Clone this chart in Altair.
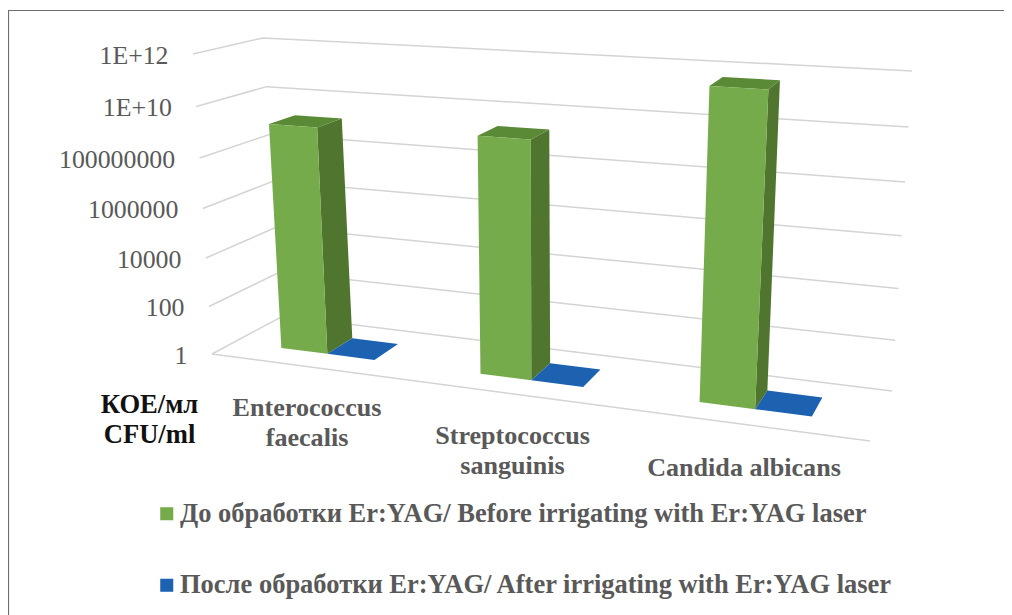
import altair as alt
import numpy as np
import pandas as pd

categories = ["Enterococcus\nfaecalis", "Streptococcus\nsanguinis", "Candida albicans"]
before_values = [1.6e9, 2.2e9, 4.9e11]
after_values = [1, 1, 1]
series_names = ["До обработки Er:YAG/ Before irrigating with Er:YAG laser",
                "После обработки Er:YAG/ After irrigating with Er:YAG laser"]
tick_labels = ["1", "100", "10000", "1000000", "100000000", "1E+10", "1E+12"]
tick_powers = [0, 2, 4, 6, 8, 10, 12]
unit_label = ["КОЕ/мл", "CFU/ml"]

W, H = 996, 607
SERIF = "Liberation Serif"
TICK_GREY = "#595959"

# perspective box corners on the page: (front/back, bottom/top, left/right)
FBL, FBR = np.array([212, 354.]), np.array([870, 441.])
BBL, BBR = np.array([283, 316.]), np.array([892, 391.])
FTL, FTR = np.array([193, 54.]), np.array([892, 96.])
BTL, BTR = np.array([263, 38.]), np.array([912, 71.])


def project(u, d, h):
    u = u - 0.14 * u * (1 - u)
    h = h - 0.06 * h * (1 - h)
    bot = (FBL * (1 - u) + FBR * u) * (1 - d) + (BBL * (1 - u) + BBR * u) * d
    top = (FTL * (1 - u) + FTR * u) * (1 - d) + (BTL * (1 - u) + BTR * u) * d
    return bot * (1 - h) + top * h


def level(v):
    return np.log10(v) / 12


polys, lines = [], []


def add(rows, pid, pts, **kw):
    for k, p in enumerate(pts):
        rows.append(dict(pid=pid, k=k, x=float(p[0]), y=float(p[1]), **kw))


# gridlines: left wall, back wall, floor edges
for p in tick_powers:
    h = p / 12
    add(lines, f"g{p}", [project(0, 0, h), project(0, 1, h), project(1, 1, h)])
add(lines, "front", [project(0, 0, 0), project(1, 0, 0)])

D0, D1 = 0.32, 0.71
BW = 0.08
A = 0.25
for i, (b, a) in enumerate(zip(before_values, after_values)):
    u0 = (i + A) / 3
    u1 = u0 + BW
    u2 = u1 + BW
    ht = level(b)
    add(polys, f"s{i}", [project(u1, D0, 0), project(u1, D1, 0), project(u1, D1, ht), project(u1, D0, ht)],
        shade="side")
    add(polys, f"t{i}", [project(u0, D0, ht), project(u1, D0, ht), project(u1, D1, ht), project(u0, D1, ht)],
        shade="top")
    add(polys, f"f{i}", [project(u0, D0, 0), project(u1, D0, 0), project(u1, D0, ht), project(u0, D0, ht)],
        shade=series_names[0])
    ha = level(a)
    add(polys, f"b{i}", [project(u1, D0, ha), project(u2, D0, ha), project(u2, D1, ha), project(u1, D1, ha)],
        shade=series_names[1])

polys = pd.DataFrame(polys)
lines = pd.DataFrame(lines)

xs = alt.X("x:Q", scale=alt.Scale(domain=[8, 8 + W], nice=False, zero=False), axis=None)
ys = alt.Y("y:Q", scale=alt.Scale(domain=[8 + H, 8], nice=False, zero=False), axis=None)

frame = alt.Chart(pd.DataFrame({"x": [8.5, 8.5, 8 + W], "y": [8 + H, 10.5, 10.5], "k": [0, 1, 2]})).mark_line(
    color="#6e6e6e", strokeWidth=1.2).encode(x=xs, y=ys, order="k:Q")

grid = alt.Chart(lines).mark_line(color="#d4d4d4", strokeWidth=1.5).encode(
    x=xs, y=ys, detail="pid:N", order="k:Q")

shades = polys[polys.shade.isin(["side", "top"])]
shaded = alt.Chart(shades).mark_line(filled=True, strokeWidth=0).encode(
    x=xs, y=ys, detail="pid:N", order="k:Q",
    fill=alt.Fill("shade:N", legend=None,
                  scale=alt.Scale(domain=["side", "top"], range=["#4f752f", "#5b8a36"])))

faces = polys[polys.shade.isin(series_names)]
front = alt.Chart(faces).mark_line(filled=True, strokeWidth=0).encode(
    x=xs, y=ys, detail="pid:N", order="k:Q",
    fill=alt.Fill("shade:N", sort=series_names,
                  scale=alt.Scale(domain=series_names, range=["#76ab4b", "#1c62b0"]),
                  legend=alt.Legend(orient="none", legendX=145.5, legendY=492.5, title=None,
                                    symbolType="square", symbolSize=170, symbolStrokeWidth=0,
                                    labelFont=SERIF, labelFontSize=26.5, labelFontWeight="bold",
                                    labelColor=TICK_GREY, labelLimit=900, rowPadding=44.5,
                                    labelOffset=0, columns=1)))

tick_rows = []
for lab, p in zip(tick_labels, tick_powers):
    q = project(0, 0, p / 12)
    tick_rows.append(dict(x=float(q[0]) - 24.5, y=float(q[1]) + 1.5, t=lab))
ticks = alt.Chart(pd.DataFrame(tick_rows)).mark_text(
    align="right", baseline="middle", font=SERIF, fontSize=25.8, color=TICK_GREY).encode(x=xs, y=ys, text="t:N")

cat_rows = [dict(x=307, y=408, t=categories[0]), dict(x=512.5, y=436, t=categories[1]), dict(x=744, y=468, t=categories[2])]
cats = alt.Chart(pd.DataFrame(cat_rows)).mark_text(
    align="center", baseline="middle", font=SERIF, fontSize=26.1, fontWeight="bold", color=TICK_GREY,
    lineBreak="\n", lineHeight=29.5).encode(x=xs, y=ys, text="t:N")

unit_rows = [dict(x=149.5, y=405, t=unit_label[0]), dict(x=149.5, y=435, t=unit_label[1])]
units = alt.Chart(pd.DataFrame(unit_rows)).mark_text(
    align="center", baseline="middle", font=SERIF, fontSize=26.6, fontWeight="bold", color="#111111").encode(
    x=xs, y=ys, text="t:N")

chart = alt.layer(frame, grid, shaded, front, ticks, cats, units).resolve_scale(fill="independent").properties(
    width=W, height=H, padding=0, autosize=alt.AutoSizeParams(type="none"), background="white"
).configure_view(stroke=None)

chart.save("out.html", embed_options={"renderer": "svg", "actions": False})
